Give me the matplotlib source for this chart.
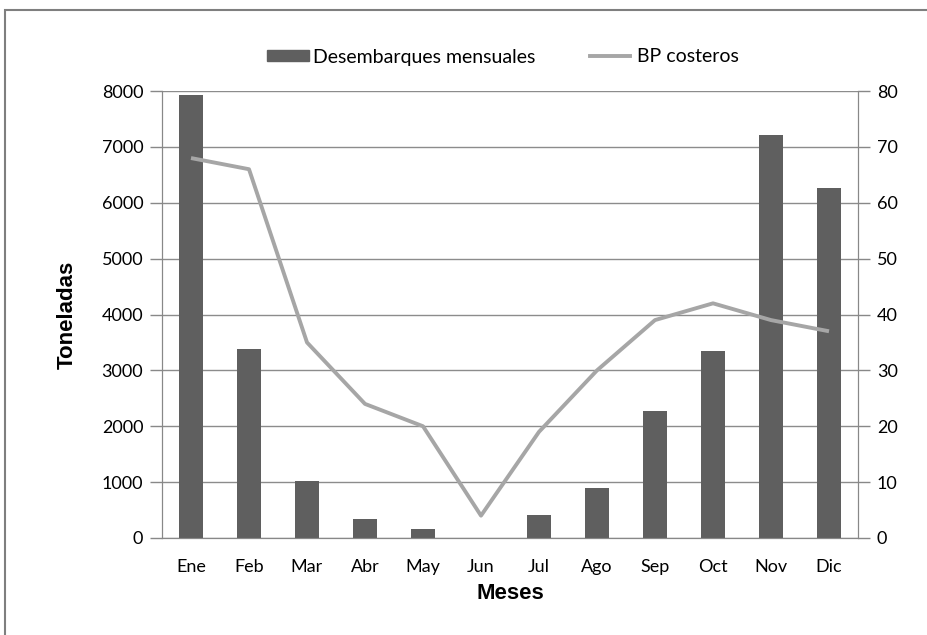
import matplotlib.pyplot as plt
import numpy as np
from matplotlib.patches import Rectangle
from matplotlib.lines import Line2D

meses = ['Ene', 'Feb', 'Mar', 'Abr', 'May', 'Jun', 'Jul', 'Ago', 'Sep', 'Oct', 'Nov', 'Dic']
desembarques = [7925, 3380, 1020, 340, 160, 0, 410, 895, 2270, 3345, 7210, 6260]
bp_costeros = [68, 66, 35, 24, 20, 4, 19, 30, 39, 42, 39, 37]

plt.rcParams['font.family'] = ['Lato', 'DejaVu Sans']

W, H = 928, 635
fig = plt.figure(figsize=(W / 100, H / 100), dpi=100)
ax = fig.add_axes([162 / W, 1 - 538 / H, 696 / W, 447 / H])
ax2 = ax.twinx()

x = np.arange(len(meses))
bar_col = '#5f5f5f'
line_col = '#a6a6a6'
axis_col = '#888888'

ax.bar(x, desembarques, width=0.4, color=bar_col, zorder=3)
ax2.plot(x, bp_costeros, color=line_col, lw=2.8, solid_capstyle='butt')

ax.set_xlim(-0.5, len(meses) - 0.5)
ax.set_ylim(0, 8000)
ax.set_yticks(np.arange(0, 8001, 1000))
ax2.set_ylim(0, 80)
ax2.set_yticks(np.arange(0, 81, 10))
ax.set_xticks(x)
ax.set_xticklabels(meses)

ax.grid(axis='y', color='#8c8c8c', lw=1, zorder=0)
ax.set_axisbelow(True)
for a in (ax, ax2):
    a.spines['top'].set_visible(False)
    for s in ('left', 'right', 'bottom'):
        a.spines[s].set_color(axis_col)
    a.tick_params(axis='y', colors=axis_col, labelcolor='black', labelsize=13, length=8.5, width=1, pad=5)
ax.tick_params(axis='x', length=0, labelsize=13, pad=15)

ax.set_ylabel('Toneladas', fontsize=16, fontweight='bold', family=['Liberation Sans', 'DejaVu Sans'], labelpad=17)
ax.set_xlabel('Meses', fontsize=16, fontweight='bold', family=['Liberation Sans', 'DejaVu Sans'], labelpad=6)

# leyenda en la parte superior, dos entradas separadas
leg_y = 1 - 57 / H
leg1 = fig.legend([Rectangle((0, 0), 1, 1, color=bar_col)], ['Desembarques mensuales'],
                  loc='center left', bbox_to_anchor=(267 / W, leg_y), frameon=False, fontsize=14,
                  handlelength=2.16, handleheight=0.55, handletextpad=0.2, borderpad=0, borderaxespad=0)
leg2 = fig.legend([Line2D([0], [0], color=line_col, lw=2.8)], ['BP costeros'],
                  loc='center left', bbox_to_anchor=(590 / W, leg_y), frameon=False, fontsize=14,
                  handlelength=2.06, handletextpad=0.36, borderpad=0, borderaxespad=0)

# marco exterior del gráfico
fig.patches.append(Rectangle((5 / W, -0.1), 1.2, 1 - 10 / H + 0.1, transform=fig.transFigure,
                             fill=False, edgecolor='#7f7f7f', lw=1.5))

fig.savefig('out.png', dpi=100, facecolor='white')
